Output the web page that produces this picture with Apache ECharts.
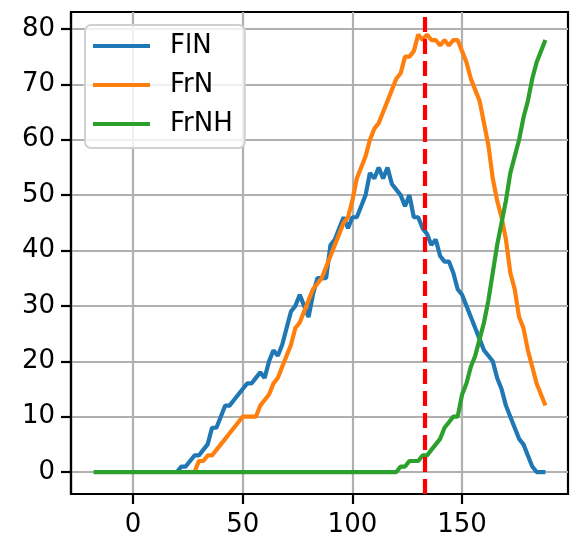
<!DOCTYPE html>
<html>
<head>
<meta charset="utf-8">
<script src="https://cdn.jsdelivr.net/npm/echarts@6/dist/echarts.min.js"></script>
<style>
html,body{margin:0;padding:0;background:#fff;}
#chart{width:577px;height:542px;}
</style>
</head>
<body>
<div id="chart"></div>
<script>
// x positions (step 2) from -18 to 188
const xs = [];
for (let x = -18; x <= 188; x += 2) xs.push(x);

// values from x = 20 .. 188 (step 2)
const flN = [0,1,1,2,3,3,4,5,8,8,10,12,12,13,14,15,16,16,17,18,17,20,22,21,23,26,29,30,32,30,28,32,35,35,35,41,42,44,46,44,46,46,48,50,54,53,55,53,55,52,51,50,48,50,46,46,44,43,41,42,39,38,38,36,33,32,30,28,26,24,22,21,20,17,15,12,10,8,6,5,3,1,0,0,0];
// values from x = 28 .. 188
const frN = [0,2,2,3,3,4,5,6,7,8,9,10,10,10,10,12,13,14,16,17,19,21,23,26,27,29,31,33,34,35,37,39,41,43,45,46,49,53,55,57,60,62,63,65,67,69,71,72,75,75,76,79,78,79,78,78,77,78,77,78,78,76,74,71,69,67,63,59,53,49,46,42,36,33,28,26,22,19,16,14,12];
// values from x = 118 .. 188 (zero before)
const frNH = [0,0,1,1,2,2,2,3,3,4,5,6,8,9,10,10,14,16,19,21,24,27,31,36,41,45,49,54,57,60,64,67,71,74,76,78];

const xTicks = [0, 50, 100, 150];
const yTicks = [0, 10, 20, 30, 40, 50, 60, 70, 80];
const vLineX = 133;

function pairs(startX, vals, fillBefore) {
  return xs.map(x => {
    if (x < startX) return [x, fillBefore];
    return [x, vals[(x - startX) / 2]];
  });
}

const FONT = 'DejaVu Sans';
const LW = 4.2;
const chart = echarts.init(document.getElementById('chart'), null, {renderer: 'canvas'});
chart.setOption({
  animation: false,
  backgroundColor: '#fff',
  textStyle: {fontFamily: FONT},
  grid: {left: 71, top: 12, right: 9, bottom: 48, show: true, borderColor: '#000', borderWidth: 2.2, backgroundColor: 'transparent'},
  xAxis: {
    type: 'value', min: -28.3, max: 198.3,
    axisLine: {show: true, onZero: false, lineStyle: {color: '#000', width: 2.2}},
    axisTick: {show: true, inside: false, length: 10, lineStyle: {color: '#000', width: 2.2}, customValues: xTicks},
    axisLabel: {customValues: xTicks, color: '#000', fontSize: 26, fontFamily: FONT, margin: 18},
    splitLine: {show: true, lineStyle: {color: '#b0b0b0', width: 2.2}}
  },
  yAxis: {
    type: 'value', min: -3.96, max: 83.06,
    axisLine: {show: true, onZero: false, lineStyle: {color: '#000', width: 2.2}},
    axisTick: {show: true, inside: false, length: 10, lineStyle: {color: '#000', width: 2.2}, customValues: yTicks},
    axisLabel: {customValues: yTicks, color: '#000', fontSize: 26, fontFamily: FONT, margin: 16},
    splitLine: {show: true, lineStyle: {color: '#b0b0b0', width: 2.2}}
  },
  legend: {
    orient: 'vertical', left: 85, top: 25,
    data: ['FlN', 'FrN', 'FrNH'],
    icon: 'rect', itemWidth: 57, itemHeight: 4, itemGap: 13,
    textStyle: {fontSize: 26, fontFamily: FONT, color: '#000', lineHeight: 26, padding: [0, 0, 0, 15]},
    backgroundColor: 'rgba(255,255,255,0.8)', borderColor: '#d0d0d0', borderWidth: 2, borderRadius: 6,
    padding: [8, 12, 11, 8]
  },
  series: [
    {name: 'FlN', type: 'line', data: pairs(20, flN, null), showSymbol: false, color: '#1f77b4', lineStyle: {width: LW, color: '#1f77b4'}},
    {name: 'FrN', type: 'line', data: pairs(28, frN, null), showSymbol: false, color: '#ff7f0e', lineStyle: {width: LW, color: '#ff7f0e'}},
    {name: 'FrNH', type: 'line', data: pairs(118, frNH, 0), showSymbol: false, color: '#2ca02c', lineStyle: {width: LW, color: '#2ca02c'},
      markLine: {silent: true, symbol: 'none', label: {show: false},
        lineStyle: {color: '#ff0000', width: LW, type: [15, 7]},
        data: [{xAxis: vLineX}]}}
  ]
});
</script>
</body>
</html>
